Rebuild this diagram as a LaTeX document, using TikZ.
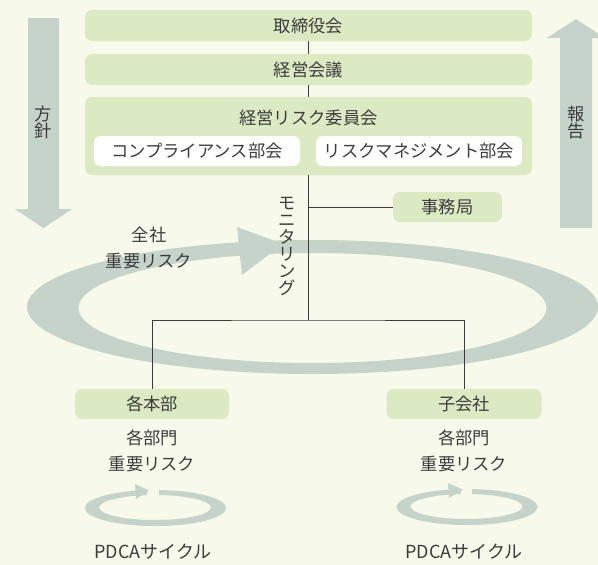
\documentclass[tikz,border=0pt]{standalone}
\usepackage{fontspec}
\setmainfont{Noto Sans CJK JP}
\usetikzlibrary{positioning}
\definecolor{bgcream}{RGB}{247,249,234}
\definecolor{boxgreen}{RGB}{220,234,196}
\definecolor{flowgray}{RGB}{197,211,203}
\definecolor{inkgray}{RGB}{60,60,60}
\begin{document}
\begin{tikzpicture}[x=1pt,y=-1pt,font=\fontsize{17.3}{26}\selectfont,text=inkgray,
    orgbox/.style={fill=boxgreen,rounded corners=7pt,minimum height=31pt,inner sep=0pt},
    subbox/.style={fill=white,rounded corners=7pt,minimum width=206pt,minimum height=30pt,inner sep=0pt},
    vtext/.style={align=center,inner sep=0pt,font=\fontsize{17.3}{17}\selectfont},
    twoline/.style={align=center,inner sep=0pt},
    link/.style={draw=inkgray,line width=.9pt}]
    \useasboundingbox (0,0) rectangle (598,565);
    \clip (0,0) rectangle (598,565);
    \fill[bgcream] (0,0) rectangle (598,565);
    % policy / report arrows
    \fill[flowgray] (28,18) -- (59,18) -- (59,209) -- (72,209) -- (43.5,228) -- (15,209) -- (28,209) -- cycle;
    \fill[flowgray] (560,228) -- (560,38) -- (547,38) -- (576,19) -- (605,38) -- (592,38) -- (592,228) -- cycle;
    \node[vtext] (policy) at (43.5,122) {方\\針};
    \node[vtext] (report) at (576,123) {報\\告};
    % company-wide cycle
    \fill[flowgray,even odd rule] (312.5,307) ellipse [x radius=285.5,y radius=67]
      (312.5,308) ellipse [x radius=234,y radius=55];
    \fill[flowgray] (237,227) -- (283,244) -- (242,275) -- cycle;
    \node[twoline] (zensha) at (149,248) {全社\\重要リスク};
    % governance boxes
    \node[orgbox,minimum width=447pt] (board) at (308.5,25.5) {取締役会};
    \node[orgbox,minimum width=447pt] (exec) at (308.5,69.5) {経営会議};
    \node[fill=boxgreen,rounded corners=7pt,minimum width=447pt,minimum height=78pt] (comm) at (308.5,136) {};
    \node[inner sep=0pt] (commtitle) at (308.5,118) {経営リスク委員会};
    \node[subbox] (compl) at (197,151) {コンプライアンス部会};
    \node[subbox] (riskmg) at (419,151) {リスクマネジメント部会};
    \node[orgbox,minimum width=109pt,minimum height=30pt] (office) at (447.5,207) {事務局};
    \node[vtext] (monitor) at (287,246.5) {モ\\ニ\\タ\\リ\\ン\\グ};
    \node[orgbox,minimum width=154pt,minimum height=30pt] (honbu) at (152,404) {各本部};
    \node[orgbox,minimum width=155pt,minimum height=30pt] (kogaisha) at (464,404) {子会社};
    % connectors
    \coordinate (split) at (308,320);
    \draw[link] (board.south -| split) -- (exec.north -| split);
    \draw[link] (exec.south -| split) -- (comm.north -| split);
    \draw[link] (comm.south -| split) -- (split);
    \draw[link] (office.west -| split) -- (office.west);
    \draw[link] (honbu.north) |- (split) -| (kogaisha.north);
    % department risks and PDCA
    \node[twoline] (honburisk) at (152,451) {各部門\\重要リスク};
    \node[twoline] (kogaisharisk) at (464,451) {各部門\\重要リスク};
    \fill[flowgray,even odd rule] (155.5,508) ellipse [x radius=70.5,y radius=18]
      (155,507.5) ellipse [x radius=56,y radius=12.5];
    \fill[bgcream] (147,485) rectangle (159,497);
    \fill[flowgray] (135,484) -- (149,490.5) -- (136,499) -- cycle;
    \fill[flowgray,even odd rule] (467,507) ellipse [x radius=70.5,y radius=18]
      (466.5,506.5) ellipse [x radius=56,y radius=12.5];
    \fill[bgcream] (461,484) rectangle (472,496);
    \fill[flowgray] (448,483) -- (463,489.5) -- (449,498) -- cycle;
    \node[inner sep=0pt,font=\fontsize{18}{20}\selectfont] (honbupdca) at (153,552) {PDCAサイクル};
    \node[inner sep=0pt,font=\fontsize{18}{20}\selectfont] (kogaishapdca) at (464,552) {PDCAサイクル};
\end{tikzpicture}
\end{document}
